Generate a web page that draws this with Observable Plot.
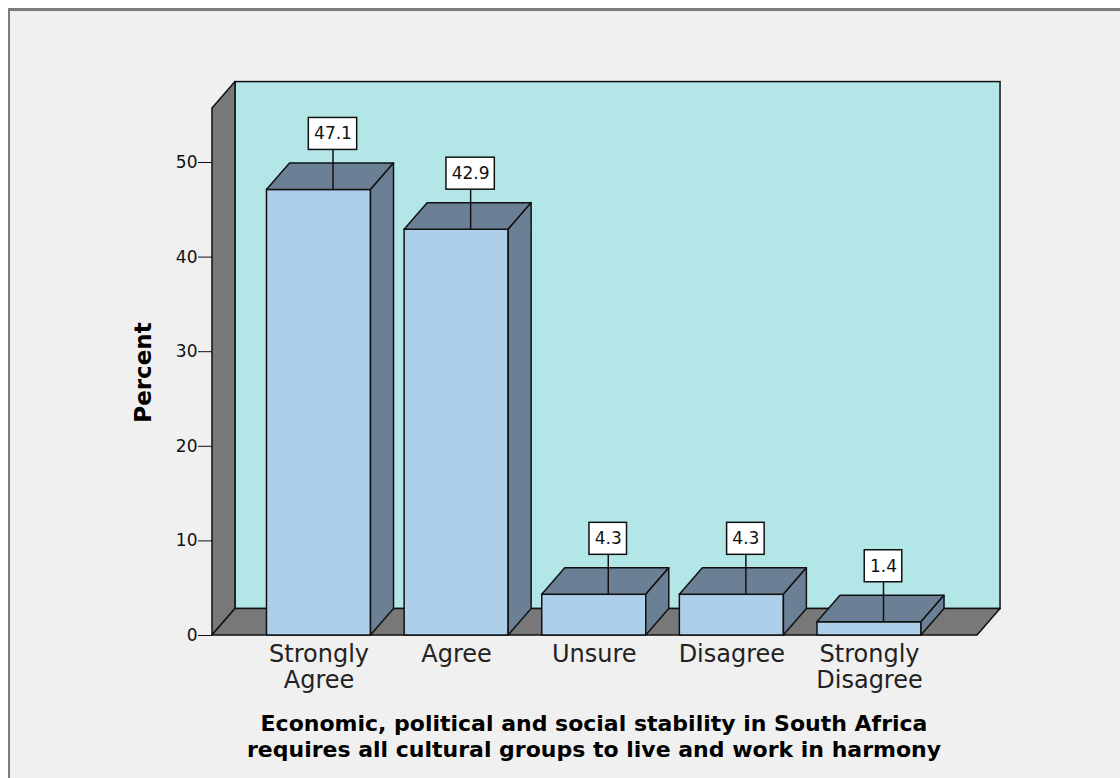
<!DOCTYPE html>
<html><head><meta charset="utf-8">
<script src="https://cdn.jsdelivr.net/npm/d3@7"></script>
<script src="https://cdn.jsdelivr.net/npm/@observablehq/plot@0.6"></script>
<style>
html,body{margin:0;padding:0;background:#fff;width:1120px;height:778px;overflow:hidden;}
#frame{position:absolute;left:8px;top:8px;width:1112px;height:770px;background:#f0f0f0;border-top:3px solid #7d7d7d;border-left:2px solid #7d7d7d;box-sizing:border-box;}
#chart{position:absolute;left:0;top:0;}
#title{position:absolute;left:0;width:1188px;top:711px;text-align:center;font-family:"DejaVu Sans";font-weight:bold;font-size:22px;line-height:26px;color:#000;}
</style></head><body>
<div id="frame"></div>
<div id="chart"></div>
<div id="title"></div>
<script>
// ---- data ----
const categories = ["Strongly\nAgree", "Agree", "Unsure", "Disagree", "Strongly\nDisagree"];
const percents = [47.1, 42.9, 4.3, 4.3, 1.4];
const yTicks = [0, 10, 20, 30, 40, 50];
const yTitle = "Percent";
const xTitleLines = ["Economic, political and social stability in South Africa",
                     "requires all cultural groups to live and work in harmony"];

// ---- layout (pixels converted to scale units) ----
const stepPx = 137.6, unitPx = 9.46;
const hb = 52 / stepPx;            // half bar width
const dX = 23 / stepPx;            // depth offset x
const dY = 26.5 / unitPx;          // depth offset y
const floorL = -106.5 / stepPx, floorR = 4 + 108 / stepPx;
const wallTop = 55.7;
const lblOff = 14 / stepPx, gapU = 40 / unitPx, boxH = 32 / unitPx;
const ink = "#111", sw = 1.5;
const cWall = "#787878", cBack = "#b3e6e6", cFront = "#aecfea", cTop = "#6b8094";

const bars = percents.map((v, i) => ({i, v, cat: categories[i], label: v.toFixed(1)}));
const hw = d => ((d.label.replace(".", "").length * 0.636 + 0.318) * 17 + 10.5) / 2 / stepPx;

const topFaces = bars.flatMap(d => [
  {i: d.i, y: d.v, x1: d.i - hb, x2: d.i + hb},
  {i: d.i, y: d.v + dY, x1: d.i - hb + dX, x2: d.i + hb + dX}]);
const sideFaces = bars.flatMap(d => [
  {i: d.i, x: d.i + hb, y1: 0, y2: d.v},
  {i: d.i, x: d.i + hb + dX, y1: dY, y2: d.v + dY}]);

const chart = Plot.plot({
  width: 1120, height: 705,
  marginLeft: 212, marginRight: 0, marginTop: 0, marginBottom: 0,
  style: {background: "transparent", fontFamily: "DejaVu Sans", fontSize: "17px", color: "#111", overflow: "visible"},
  x: {type: "linear", domain: [0, 4], range: [318.5, 869], axis: null},
  y: {domain: [0, 50], range: [635, 162], ticks: yTicks, tickSize: 14, tickPadding: 1, label: null, tickFormat: d => String(d)},
  marks: [
    Plot.rect([0], {x1: () => floorL + dX, x2: () => floorR + dX, y1: () => dY, y2: () => wallTop + dY, fill: cBack, stroke: ink, strokeWidth: sw}),
    Plot.areaY([{x: floorL, y1: 0, y2: wallTop}, {x: floorL + dX, y1: dY, y2: wallTop + dY}],
      {x: "x", y1: "y1", y2: "y2", fill: cWall, stroke: ink, strokeWidth: sw}),
    Plot.areaX([{y: 0, x1: floorL, x2: floorR}, {y: dY, x1: floorL + dX, x2: floorR + dX}],
      {y: "y", x1: "x1", x2: "x2", fill: cWall, stroke: ink, strokeWidth: sw}),
    Plot.rect(bars, {x1: d => d.i - hb, x2: d => d.i + hb, y1: 0, y2: "v", fill: cFront, stroke: ink, strokeWidth: sw}),
    Plot.areaX(topFaces, {y: "y", x1: "x1", x2: "x2", z: "i", fill: cTop, stroke: ink, strokeWidth: sw}),
    Plot.areaY(sideFaces, {x: "x", y1: "y1", y2: "y2", z: "i", fill: cTop, stroke: ink, strokeWidth: sw}),
    Plot.ruleX(bars, {x: d => d.i + lblOff, y1: "v", y2: d => d.v + gapU, stroke: ink, strokeWidth: sw}),
    Plot.rect(bars, {x1: d => d.i + lblOff - hw(d), x2: d => d.i + lblOff + hw(d), y1: d => d.v + gapU, y2: d => d.v + gapU + boxH, fill: "white", stroke: ink, strokeWidth: sw}),
    Plot.text(bars, {x: d => d.i + lblOff, y: d => d.v + gapU + boxH / 2, text: "label", fontSize: 17, fill: "#111"}),
    Plot.text(bars, {x: "i", y: 0, text: "cat", lineAnchor: "top", dy: 8, fontSize: 24, lineHeight: 1.08, fill: "#222"}),
    Plot.text([{y: 27.8}], {y: "y", text: () => yTitle, frameAnchor: "left", textAnchor: "middle", dx: -69, rotate: -90, fontSize: 23, fontWeight: "bold", fill: "#000"})
  ]
});
document.getElementById("chart").appendChild(chart);
document.getElementById("title").innerHTML = xTitleLines.join("<br>");
</script>
</body></html>
